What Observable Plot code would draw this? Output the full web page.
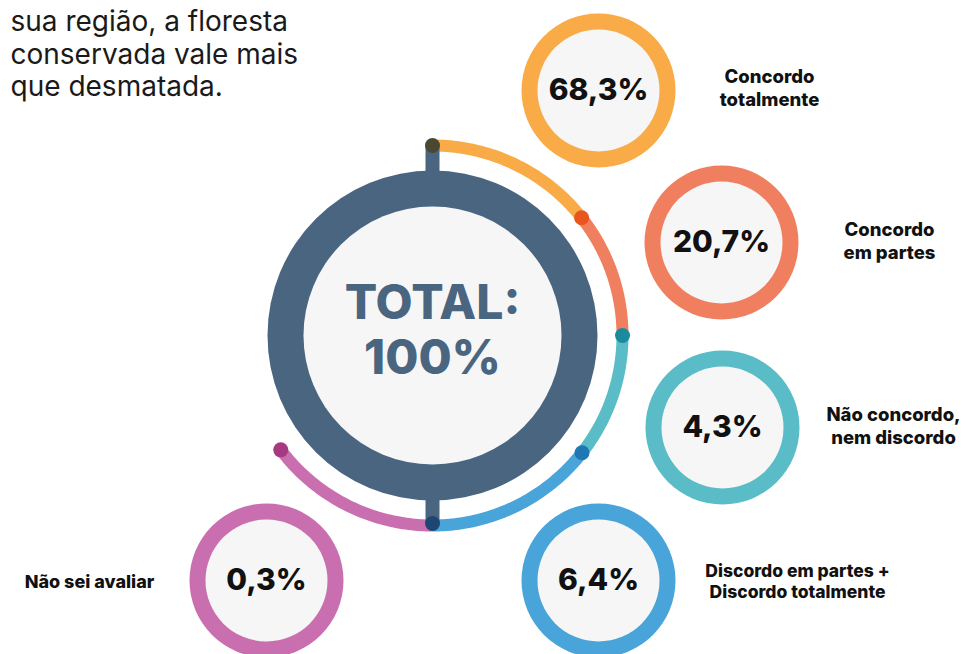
<!DOCTYPE html>
<html><head><meta charset="utf-8">
<script src="https://cdn.jsdelivr.net/npm/d3@7"></script>
<script src="https://cdn.jsdelivr.net/npm/@observablehq/plot@0.6"></script>
<style>body{margin:0;background:#fff;} svg{display:block;}</style>
</head><body><div id="chart"></div>
<script>
// ---- data ----
const categories = ["Concordo\ntotalmente", "Concordo\nem partes", "Não concordo,\nnem discordo", "Discordo em partes +\nDiscordo totalmente", "Não sei avaliar"];
const values = [68.3, 20.7, 4.3, 6.4, 0.3];
const totalLabel = "TOTAL:\n100%";
const questionLines = ["sua região, a floresta", "conservada vale mais", "que desmatada."];

// ---- layout & styles ----
const W = 966, H = 654;
const C = {x: 432, y: 335};
const ringColors = ["#f9ab47", "#f07f60", "#59bcc7", "#48a4d9", "#c96fb0"];
const dotColors = ["#e8561e", "#1a8b9c", "#1f78b4", "#a63a82"];
const ringPos = [[598, 90], [721, 242], [722, 427], [598, 580], [266, 580]];
const labelPos = [[769, 87], [889, 240], [893, 425], [797, 580], [89, 580]];
const labelSizes = [18.5, 18.5, 18.5, 17.5, 18];
const segAngles = [[0, 51.7], [51.7, 90], [90, 128.1], [128.1, 180], [180, 233]];
const R = 190;

const fmt = v => v.toFixed(1).replace(".", ",") + "%";
const rows = categories.map((c, i) => ({
  cat: c, value: values[i], label: fmt(values[i]), color: ringColors[i],
  cx: ringPos[i][0], cy: ringPos[i][1], lx: labelPos[i][0], ly: labelPos[i][1], fs: labelSizes[i]
}));

const pt = a => ({x: C.x + R * Math.sin(a * Math.PI / 180), y: C.y - R * Math.cos(a * Math.PI / 180)});
const arcPts = segAngles.flatMap(([a0, a1], i) =>
  d3.range(0, 61).map(k => ({...pt(a0 + (a1 - a0) * k / 60), seg: i, color: ringColors[i]})));
const boundaryDots = [51.7, 90, 128.1, 233].map((a, i) => ({...pt(a), color: dotColors[i]}));
const stems = [
  {x1: C.x, y1: C.y - R, x2: C.x, y2: C.y - 150, dot: "#4a4733"},
  {x1: C.x, y1: C.y + R - 2, x2: C.x, y2: C.y + 150, dot: "#1d4672"}
];

const font = "Inter, 'Open Sans', sans-serif";

const chart = Plot.plot({
  width: W, height: H, margin: 0,
  x: {domain: [0, W], range: [0, W], axis: null},
  y: {domain: [0, H], range: [0, H], axis: null},
  color: {type: "identity"},
  style: {fontFamily: font, background: "#fff"},
  marks: [
    // title
    Plot.text(questionLines, {x: () => 10, y: (d, i) => 22 + i * 32.5, text: d => d, textAnchor: "start",
      lineAnchor: "middle", fontSize: 28, fill: "#1a1a1a", fontWeight: 400}),
    // outer arc segments
    Plot.line(arcPts, {x: "x", y: "y", z: "seg", stroke: "color", strokeWidth: 12, strokeLinecap: "butt"}),
    // stems
    Plot.link(stems, {x1: "x1", y1: "y1", x2: "x2", y2: "y2", stroke: "#4a6580", strokeWidth: 14, strokeLinecap: "butt"}),
    Plot.dot(stems, {x: "x1", y: "y1", r: 7.5, fill: "dot"}),
    Plot.dot(boundaryDots, {x: "x", y: "y", r: 7.5, fill: "color"}),
    // central ring
    Plot.dot([C], {x: "x", y: "y", r: 165, fill: "#4a6580", ariaLabel: "bigring"}),
    Plot.dot([C], {x: "x", y: "y", r: 129, fill: "#f6f6f7", ariaLabel: "biginner"}),
    Plot.text([C], {x: "x", y: d => d.y - 7, text: () => totalLabel, fontSize: 48, fontWeight: 800,
      fill: "#4a6580", lineHeight: 1.15}),
    // category rings
    Plot.dot(rows, {x: "cx", y: "cy", r: 77, fill: "color", ariaLabel: "rings"}),
    Plot.dot(rows, {x: "cx", y: "cy", r: 61, fill: "#f6f6f7", ariaLabel: "inners"}),
    Plot.text(rows, {x: "cx", y: "cy", text: "label", fontSize: 30, fontWeight: 800, fill: "#111"}),
    Plot.text(rows, {x: "lx", y: "ly", text: "cat", fontSize: d => d.fs, fontWeight: 800, fill: "#111", lineHeight: 1.25})
  ]
});

const svg = d3.select(chart);
svg.selectAll('g[aria-label="rings"]').style("filter", "drop-shadow(-2px 4px 5px rgba(0,0,0,0.22))");
svg.selectAll('g[aria-label="inners"]').style("filter", "drop-shadow(-4px 3px 4px rgba(0,0,0,0.22))");
svg.selectAll('g[aria-label="biginner"]').style("filter", "drop-shadow(-6px 4px 6px rgba(0,0,0,0.28))");
document.getElementById("chart").append(chart);
</script>
</body></html>
